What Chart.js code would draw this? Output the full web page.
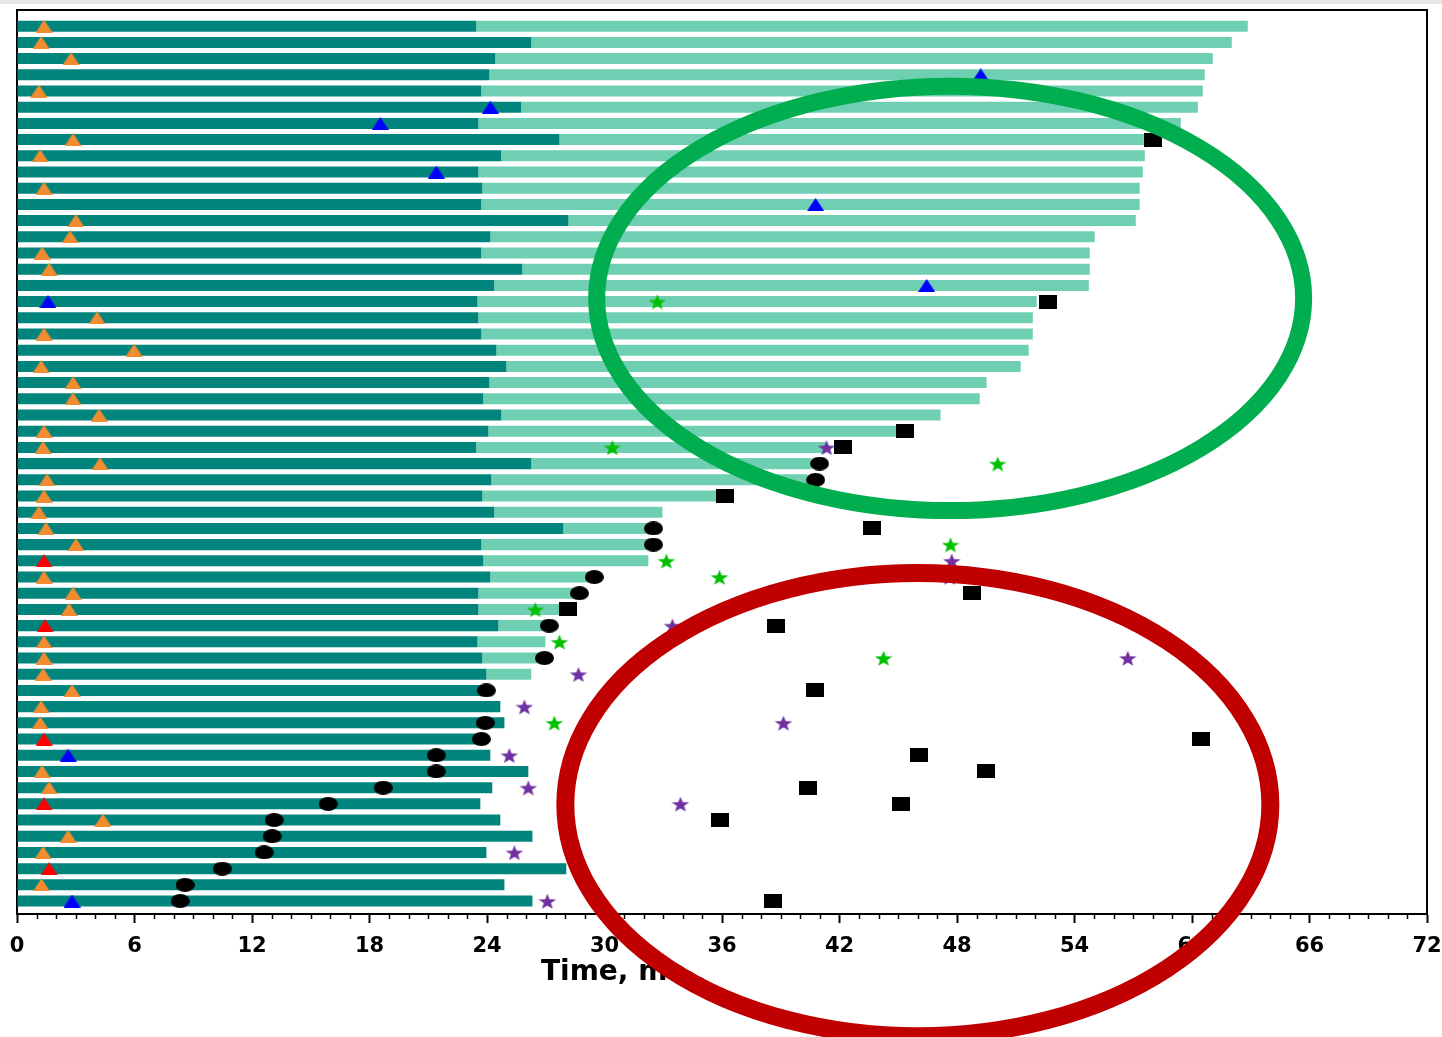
<!DOCTYPE html>
<html lang="en">
<head>
<meta charset="UTF-8">
<title>swimmer plot</title>
<script src="https://cdn.jsdelivr.net/npm/chart.js"></script>
<style>
  html, body { margin: 0; padding: 0; background: #fff; }
  canvas { display: block; }
</style>
</head>
<body>
<canvas id="chart" width="1442" height="1037"></canvas>
<script>
// one row per patient, top (1) to bottom (55)
const darkEnd = [
  23.45, 26.26, 24.42, 24.12, 23.71, 25.75, 23.56, 27.70, 24.73, 23.56,
  23.76, 23.71, 28.16, 24.17, 23.71, 25.80, 24.37, 23.51, 23.56, 23.71,
  24.48, 24.99, 24.12, 23.81, 24.73, 24.07, 23.45, 26.26, 24.22, 23.76,
  24.37, 27.90, 23.71, 23.81, 24.17, 23.56, 23.56, 24.58, 23.51, 23.76,
  23.97, 23.76, 24.68, 24.89, 24.00, 24.17, 26.11, 24.27, 23.66, 24.68,
  26.32, 23.97, 28.05, 24.89, 26.32
];
const lightEnd = [
  62.85, 62.03, 61.06, 60.65, 60.55, 60.30, 59.43, 57.54, 57.59, 57.49,
  57.33, 57.33, 57.13, 55.03, 54.78, 54.78, 54.73, 52.07, 51.87, 51.87,
  51.66, 51.25, 49.51, 49.16, 47.16, 44.92, 41.30, 40.57, 40.37, 35.72,
  32.96, 32.35, 32.35, 32.24, 29.28, 28.46, 27.75, 26.98, 26.98, 26.62,
  26.26, null, null, null, null, null, null, null, null, null,
  null, null, null, null, null
];

// markers: [row, time in months]
const orangeTri = [
  [1,1.38],[2,1.23],[3,2.76],[5,1.12],[8,2.86],[9,1.18],[11,1.38],[13,3.01],[14,2.71],[15,1.28],
  [16,1.64],[19,4.09],[20,1.38],[21,5.98],[22,1.23],[23,2.86],[24,2.86],[25,4.19],[26,1.38],[27,1.33],
  [28,4.24],[29,1.53],[30,1.38],[31,1.12],[32,1.48],[33,3.01],[35,1.38],[36,2.86],[37,2.66],[39,1.38],
  [40,1.38],[41,1.33],[42,2.81],[43,1.23],[44,1.18],[47,1.28],[48,1.64],[50,4.39],[51,2.61],[52,1.33],
  [54,1.25]
];
const redTri = [[34,1.38],[38,1.43],[45,1.38],[49,1.38],[53,1.64]];
const blueTri = [[4,49.21],[6,24.17],[7,18.55],[10,21.41],[12,40.78],[17,46.45],[18,1.58],[46,2.61],[55,2.81]];
const blackOval = [
  [28,40.98],[29,40.78],[32,32.50],[33,32.50],[35,29.48],[36,28.72],[38,27.18],[40,26.93],[42,23.97],[44,23.91],
  [45,23.71],[46,21.41],[47,21.41],[48,18.70],[49,15.89],[50,13.13],[51,13.03],[52,12.62],[53,10.48],[54,8.58],
  [55,8.33]
];
const blackBox = [
  [8,58.0],[18,52.63],[26,45.32],[27,42.16],[30,36.13],[32,43.64],[36,48.75],[37,28.16],[38,38.78],[42,40.73],
  [45,60.45],[46,46.04],[47,49.46],[48,40.37],[49,45.12],[50,35.92],[55,38.58]
];
const greenStar = [[18,32.70],[27,30.40],[28,50.08],[33,47.67],[34,33.16],[35,35.87],[37,26.47],[39,27.70],[40,44.25],[44,27.44]];
const purpleStar = [
  [27,41.34],[34,47.73],[35,47.62],[38,33.47],[40,56.72],[41,28.67],[43,25.91],[44,39.14],[46,25.14],[48,26.11],
  [49,33.88],[52,25.40],[55,27.08]
];

const xTicks = [0, 6, 12, 18, 24, 30, 36, 42, 48, 54, 60, 66, 72];

// highlight rings: [centre time, centre row, half-width (months), half-height (rows)]
const greenRing = [47.65, 17.8, 18.05, 13.1];
const redRing = [46.0, 49.05, 18.0, 14.3];

function icon(w, h, paint) {
  const c = document.createElement('canvas');
  c.width = w; c.height = h;
  paint(c.getContext('2d'), w, h);
  return c;
}
const tri = col => icon(17, 13, (g, w, h) => {
  g.fillStyle = col;
  g.beginPath(); g.moveTo(w / 2, 0); g.lineTo(w, h); g.lineTo(0, h); g.closePath(); g.fill();
});
const oval = icon(19, 14, (g, w, h) => {
  g.fillStyle = '#000';
  g.beginPath(); g.ellipse(w / 2, h / 2, w / 2, h / 2, 0, 0, Math.PI * 2); g.fill();
});
const box = icon(18, 14, (g, w, h) => { g.fillStyle = '#000'; g.fillRect(0, 0, w, h); });
const star = col => icon(18, 16, (g, w, h) => {
  g.fillStyle = col;
  g.beginPath();
  for (let k = 0; k < 10; k++) {
    const r = k % 2 ? 3.6 : 8.8;
    const a = -Math.PI / 2 + k * Math.PI / 5;
    g.lineTo(w / 2 + r * Math.cos(a) * 1.05, h / 2 + 1 + r * Math.sin(a) * 0.95);
  }
  g.closePath(); g.fill();
});

function marks(label, list, img) {
  return {
    type: 'line', label, showLine: false, order: 0,
    data: list.map(([r, t]) => ({ x: t, y: r })),
    pointStyle: img, pointRadius: 8, pointHoverRadius: 8
  };
}

const rows = darkEnd.map((_, i) => i + 1);

const decor = {
  id: 'decor',
  beforeDraw(chart) {
    const c = chart.ctx;
    c.save();
    c.fillStyle = '#fff'; c.fillRect(0, 0, chart.width, chart.height);
    c.fillStyle = '#e6e6e6'; c.fillRect(0, 0, chart.width, 4);
    c.restore();
  },
  afterDraw(chart) {
    const c = chart.ctx, a = chart.chartArea, xs = chart.scales.x, ys = chart.scales.y;
    c.save();
    // top and right frame
    c.strokeStyle = '#000'; c.lineWidth = 2;
    c.beginPath(); c.moveTo(a.left, a.top); c.lineTo(a.right, a.top); c.lineTo(a.right, a.bottom); c.stroke();
    // minor ticks every month
    c.lineWidth = 1.5;
    for (let v = 0; v <= 72; v++) {
      if (v % 6 === 0) continue;
      const px = Math.round(xs.getPixelForValue(v)) + 0.5;
      c.beginPath(); c.moveTo(px, a.bottom); c.lineTo(px, a.bottom + 5); c.stroke();
    }
    const ring = (spec) => {
      const cx = xs.getPixelForValue(spec[0]), cy = ys.getPixelForValue(spec[1]);
      return [cx, cy, xs.getPixelForValue(spec[0] + spec[2]) - cx, Math.abs(ys.getPixelForValue(spec[1] + spec[3]) - cy)];
    };
    const g = ring(greenRing), r = ring(redRing);
    // axis title (the red ring sits over it)
    c.save();
    c.beginPath();
    c.rect(0, 0, chart.width, chart.height);
    c.ellipse(r[0], r[1], r[2] - 9, r[3] - 9, 0, 0, Math.PI * 2);
    c.clip('evenodd');
    c.fillStyle = '#000';
    c.font = 'bold 28px "DejaVu Sans"';
    c.textAlign = 'left'; c.textBaseline = 'alphabetic';
    c.fillText('Time, months', 541, 980);
    c.restore();
    // rings
    c.lineWidth = 17; c.strokeStyle = '#00ad4f';
    c.beginPath(); c.ellipse(g[0], g[1], g[2], g[3], 0, 0, Math.PI * 2); c.stroke();
    c.lineWidth = 18; c.strokeStyle = '#c00000';
    c.beginPath(); c.ellipse(r[0], r[1], r[2], r[3], 0, 0, Math.PI * 2); c.stroke();
    c.restore();
  }
};

new Chart(document.getElementById('chart'), {
  data: {
    datasets: [
      marks('orange', orangeTri, tri('#f28c30')),
      marks('red', redTri, tri('#ff0000')),
      marks('blue', blueTri, tri('#0000ff')),
      marks('oval', blackOval, oval),
      marks('box', blackBox, box),
      marks('green star', greenStar, star('#00c000')),
      marks('purple star', purpleStar, star('#7030a0')),
      {
        type: 'bar', label: 'later', order: 2, grouped: false,
        data: rows.filter((r, i) => lightEnd[i] != null).map(r => ({ y: r, x: [darkEnd[r - 1], lightEnd[r - 1]] })),
        backgroundColor: '#6ecfb2', barPercentage: 1, categoryPercentage: 0.68
      },
      {
        type: 'bar', label: 'first', order: 1, grouped: false,
        data: rows.map(r => ({ y: r, x: [0, darkEnd[r - 1]] })),
        backgroundColor: '#00847c', barPercentage: 1, categoryPercentage: 0.68
      }
    ]
  },
  options: {
    indexAxis: 'y',
    responsive: false,
    animation: false,
    devicePixelRatio: 1,
    layout: { padding: { top: 10, left: 17, right: 15, bottom: 0 } },
    plugins: { legend: { display: false }, tooltip: { enabled: false } },
    scales: {
      x: {
        type: 'linear', position: 'bottom', min: 0, max: 72,
        afterBuildTicks(s) { s.ticks = xTicks.map(v => ({ value: v })); },
        ticks: { color: '#000', font: { family: 'DejaVu Sans', weight: 'bold', size: 21 }, padding: 11, maxRotation: 0, autoSkip: false },
        grid: { drawOnChartArea: false, tickLength: 9, tickWidth: 2, tickColor: '#000' },
        border: { color: '#000', width: 2 },
        afterFit(s) { s.height = 123; s.paddingLeft = 0; s.paddingRight = 0; }
      },
      y: {
        type: 'linear', position: 'left', reverse: true, min: 0, max: 55.8, offset: false,
        ticks: { display: false },
        grid: { drawOnChartArea: false, drawTicks: false, offset: false },
        border: { color: '#000', width: 2 },
        afterFit(s) { s.width = 0; }
      }
    }
  },
  plugins: [decor]
});
</script>
</body>
</html>
